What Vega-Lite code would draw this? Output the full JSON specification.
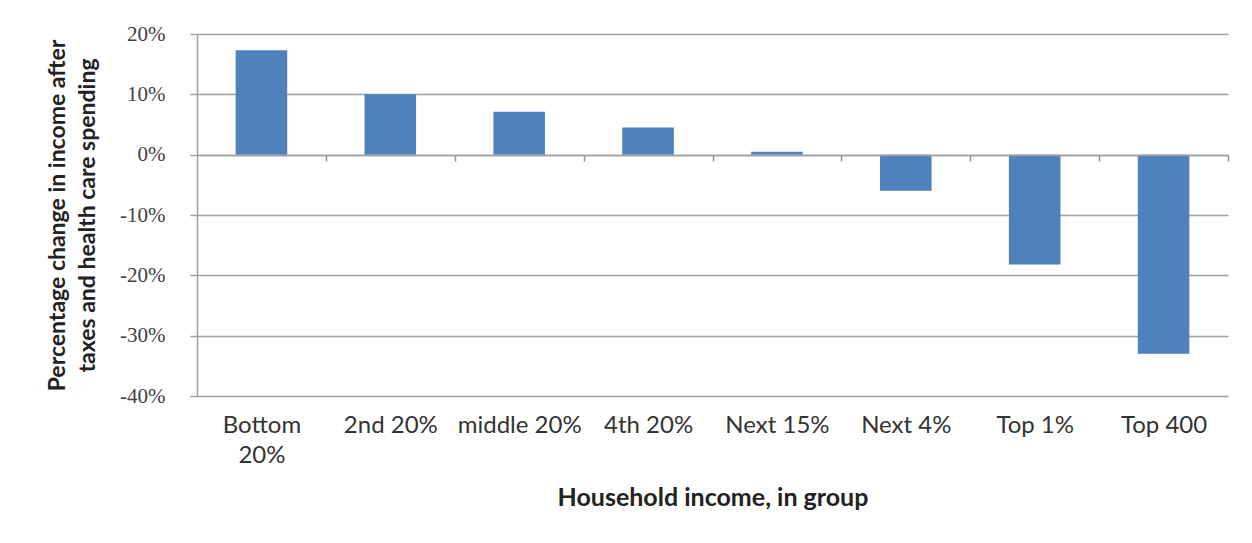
{
  "$schema": "https://vega.github.io/schema/vega-lite/v6.json",
  "width": 1031,
  "height": 362,
  "autosize": {"type": "none"},
  "padding": {"left": 197, "top": 34, "right": 24, "bottom": 147},
  "background": "white",
  "data": {
    "values": [
      {"group": "Bottom 20%", "change": 0.173},
      {"group": "2nd 20%", "change": 0.100},
      {"group": "middle 20%", "change": 0.071},
      {"group": "4th 20%", "change": 0.045},
      {"group": "Next 15%", "change": 0.005},
      {"group": "Next 4%", "change": -0.060},
      {"group": "Top 1%", "change": -0.182},
      {"group": "Top 400", "change": -0.330}
    ]
  },
  "mark": {"type": "bar", "color": "#4f81bd"},
  "encoding": {
    "x": {
      "field": "group",
      "type": "nominal",
      "sort": null,
      "scale": {"paddingInner": 0.6, "paddingOuter": 0.3},
      "axis": {
        "orient": "bottom",
        "offset": -241,
        "zindex": 1,
        "domainColor": "#a0a0a0",
        "domainWidth": 1.5,
        "ticks": true,
        "tickOffset": 64.44,
        "labelOffset": -64.44,
        "tickSize": 6,
        "tickColor": "#909090",
        "tickWidth": 1.5,
        "labelAngle": 0,
        "labelPadding": 252,
        "labelFont": "Lato",
        "labelFontSize": 24,
        "labelColor": "#333333",
        "labelLineHeight": 30,
        "labelBaseline": "top",
        "labelExpr": "datum.value == 'Bottom 20%' ? ['Bottom', '20%'] : datum.value",
        "title": "Household income, in group",
        "titleFont": "Lato",
        "titleFontWeight": "bold",
        "titleFontSize": 25,
        "titleColor": "#222222",
        "titlePadding": 130
      }
    },
    "y": {
      "field": "change",
      "type": "quantitative",
      "scale": {"domain": [-0.4, 0.2], "nice": false},
      "axis": {
        "values": [-0.4, -0.3, -0.2, -0.1, 0, 0.1, 0.2],
        "labelExpr": "replace(format(datum.value, '.0%'), '\u2212', '-')",
        "domainColor": "#a0a0a0",
        "domainWidth": 1.5,
        "tickColor": "#a0a0a0",
        "tickWidth": 1.5,
        "tickSize": 7,
        "grid": true,
        "gridColor": "#a0a0a0",
        "gridWidth": 1.5,
        "labelFont": "Liberation Serif",
        "labelFontSize": 21,
        "labelColor": "#404040",
        "labelPadding": 25,
        "title": ["Percentage change in income after", "taxes and health care spending"],
        "titleFont": "Lato",
        "titleFontWeight": "bold",
        "titleFontSize": 23,
        "titleLineHeight": 30,
        "titleColor": "#222222",
        "titlePadding": 20
      }
    }
  },
  "config": {"view": {"stroke": null}}
}
